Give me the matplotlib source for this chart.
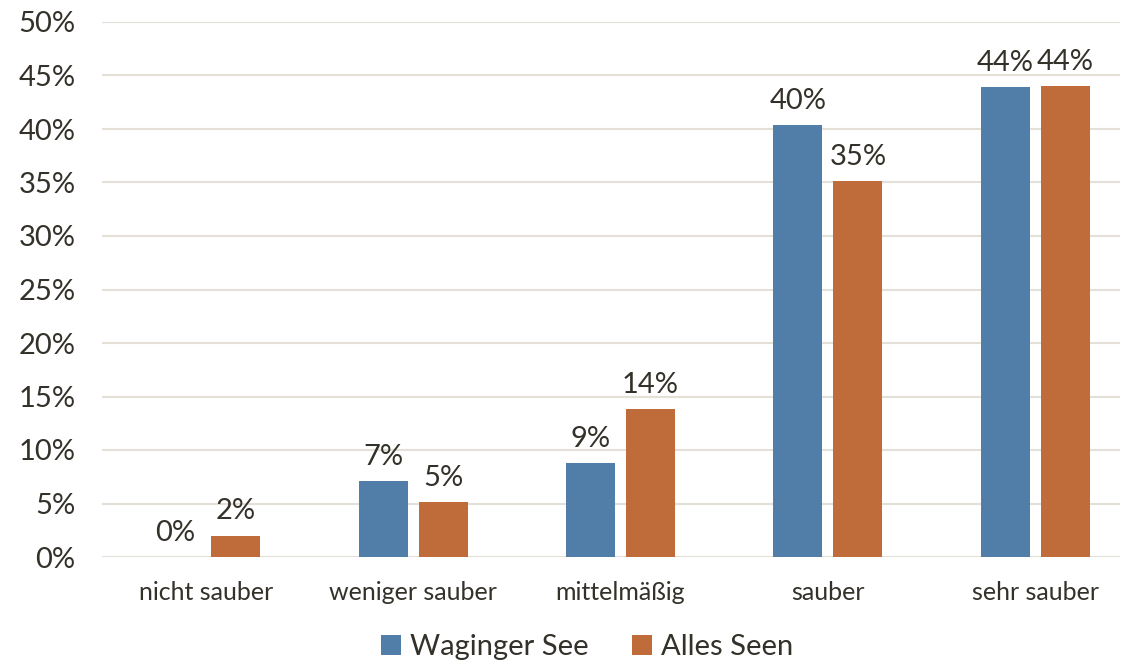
import numpy as np
import matplotlib.pyplot as plt
from matplotlib.ticker import PercentFormatter

categories = ["nicht sauber", "weniger sauber", "mittelmäßig", "sauber", "sehr sauber"]
waginger = [0.0, 7.1, 8.8, 40.4, 43.9]
alle = [2.0, 5.1, 13.8, 35.1, 44.0]
series_names = ["Waginger See", "Alles Seen"]

blue = "#517EA8"
orange = "#C06C3A"
grid_col = "#E4E0D8"
text_col = "#333129"

plt.rcParams["font.family"] = ["Lato", "DejaVu Sans"]

fig = plt.figure(figsize=(11.29, 6.64), dpi=100)
ax = fig.add_axes([102 / 1129, 107 / 664, 1018 / 1129, 535 / 664])

x = np.arange(len(categories))
w = 0.236
off = 0.145
b1 = ax.bar(x - off, waginger, w, color=blue, label=series_names[0], zorder=3)
b2 = ax.bar(x + off, alle, w, color=orange, label=series_names[1], zorder=3)

# value labels above bars
for bars, vals in ((b1, waginger), (b2, alle)):
    for rect, v in zip(bars, vals):
        ax.annotate(f"{v:.0f}%", (rect.get_x() + rect.get_width() / 2, v),
                    xytext=(0, 8), textcoords="offset points",
                    ha="center", va="bottom", fontsize=21, color=text_col)

ax.set_xlim(-0.5, -0.5 + 1018 / 207.4)
ax.set_ylim(0, 50)
ax.set_yticks(np.arange(0, 51, 5))
ax.yaxis.set_major_formatter(PercentFormatter(decimals=0))
ax.set_xticks(x)
ax.set_xticklabels(categories)
ax.tick_params(axis="y", length=0, pad=19, labelsize=21, labelcolor=text_col)
ax.tick_params(axis="x", length=0, pad=17, labelsize=18, labelcolor=text_col)
ax.grid(axis="y", color=grid_col, linewidth=1.5, zorder=0)
for s in ax.spines.values():
    s.set_visible(False)

fig.legend(loc="center", bbox_to_anchor=(587 / 1129, 1 - 647 / 664), ncol=2,
           frameon=False, fontsize=21, handlelength=0.7, handleheight=0.7,
           handletextpad=0.3, columnspacing=1.5, labelcolor=text_col)

fig.savefig("out.png", dpi=100)
